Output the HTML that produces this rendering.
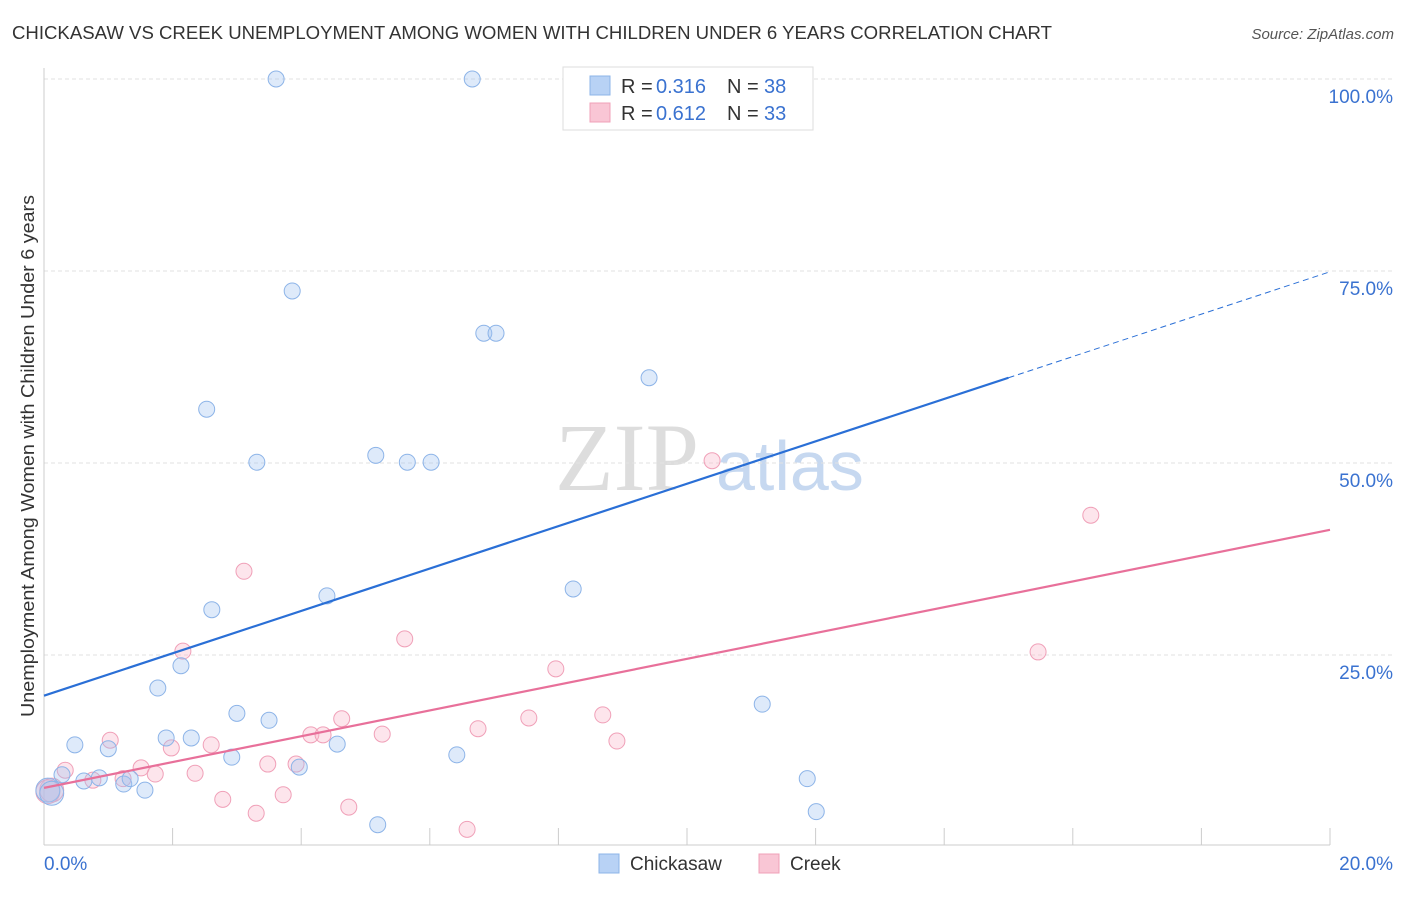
<!DOCTYPE html>
<html><head><meta charset="utf-8"><style>
body{margin:0;background:#fff;font-family:"Liberation Sans",sans-serif;}
</style></head><body>
<svg id="chart" width="1406" height="892" xmlns="http://www.w3.org/2000/svg" font-family="Liberation Sans, sans-serif">
<text x="12" y="39" font-size="18" fill="#333" textLength="1040" lengthAdjust="spacingAndGlyphs">CHICKASAW VS CREEK UNEMPLOYMENT AMONG WOMEN WITH CHILDREN UNDER 6 YEARS CORRELATION CHART</text>
<text x="1394" y="39" font-size="15" fill="#555" text-anchor="end" font-style="italic">Source: ZipAtlas.com</text>
<g>
<text x="555" y="490" font-size="96" font-family="Liberation Serif, serif" fill="#dddddd">ZIP</text>
<text x="716" y="490" font-size="70" fill="#c6d8f0">atlas</text>
</g>
<g id="grid"></g>
<g id="axes"></g>
<g id="marks"></g>
<text transform="translate(34,456) rotate(-90)" font-size="18" fill="#333" text-anchor="middle" textLength="522" lengthAdjust="spacingAndGlyphs">Unemployment Among Women with Children Under 6 years</text>
<g>
<rect x="563" y="67" width="250" height="63" fill="#fff" stroke="#ddd"/>
<rect x="590" y="76" width="20" height="19" fill="#b8d2f5" stroke="#8db4e8"/>
<rect x="590" y="103" width="20" height="19" fill="#f9c6d5" stroke="#f0a0b8"/>
<text x="621" y="93" font-size="20" fill="#333">R =</text>
<text x="656" y="93" font-size="20" fill="#3a72d0">0.316</text>
<text x="727" y="93" font-size="20" fill="#333">N =</text>
<text x="764" y="93" font-size="20" fill="#3a72d0">38</text>
<text x="621" y="120" font-size="20" fill="#333">R =</text>
<text x="656" y="120" font-size="20" fill="#3a72d0">0.612</text>
<text x="727" y="120" font-size="20" fill="#333">N =</text>
<text x="764" y="120" font-size="20" fill="#3a72d0">33</text>
</g>
<g>
<rect x="599" y="854" width="20" height="19" fill="#b8d2f5" stroke="#8db4e8"/>
<text x="630" y="870" font-size="19" fill="#333">Chickasaw</text>
<rect x="759" y="854" width="20" height="19" fill="#f9c6d5" stroke="#f0a0b8"/>
<text x="790" y="870" font-size="19" fill="#333">Creek</text>
</g>
</svg>
<script>
const yTicks=[25,50,75,100];
const yTickLabels=["25.0%","50.0%","75.0%","100.0%"];
const xTickLabels=["0.0%","20.0%"];
const blueX=[3.61,6.66,3.86,6.84,7.03,9.41,2.53,3.31,5.16,5.65,6.02,2.61,4.40,8.23,2.13,1.77,0.48,1.00,1.90,2.29,3.00,3.50,2.92,4.56,3.97,6.42,11.17,11.87,12.01,5.19,0.86,0.62,1.24,1.34,1.57,0.28,0.06,0.12];
const blueY=[100,100,72.4,66.9,66.9,61.1,57.0,50.1,51.0,50.1,50.1,30.9,32.7,33.6,23.6,20.7,13.3,12.8,14.2,14.2,17.4,16.5,11.7,13.4,10.4,12.0,18.6,8.9,4.6,2.9,9.0,8.6,8.2,8.9,7.4,9.4,7.4,7.0];
const pinkX=[3.11,10.39,16.28,15.46,5.61,2.16,7.96,1.03,1.98,2.60,2.35,1.51,1.73,1.23,0.76,0.33,0.12,3.48,3.92,4.15,4.34,4.63,5.26,6.75,7.54,8.69,8.91,2.78,3.30,3.72,4.74,6.58,0.06];
const pinkY=[35.9,50.3,43.2,25.4,27.1,25.5,23.2,13.9,12.9,13.3,9.6,10.3,9.5,8.9,8.7,10.0,7.4,10.8,10.8,14.6,14.6,16.7,14.7,15.4,16.8,17.2,13.8,6.2,4.4,6.8,5.2,2.3,7.2];
const blueTrend=[19.7,74.9];
const pinkTrend=[7.7,41.3];
const NS="http://www.w3.org/2000/svg";
const X=v=>44+v/20*1286, Y=v=>847-v/100*768;
function mk(t,a,p){const e=document.createElementNS(NS,t);for(const k in a)e.setAttribute(k,a[k]);p.appendChild(e);return e;}
const grid=document.getElementById('grid'),axes=document.getElementById('axes'),marks=document.getElementById('marks');
yTicks.forEach((t,i)=>{
 const l=mk('line',{x1:44,x2:1394,y1:Y(t),y2:Y(t),stroke:'#e2e2e2','stroke-dasharray':'4,3'},grid);
 
 
 const tx=mk('text',{x:1393,y:Y(t)+24,'font-size':19,fill:'#3a72d0','text-anchor':'end'},axes);
 tx.textContent=yTickLabels[i];
 
 
});
const ax=mk('line',{x1:44,x2:44,y1:68,y2:845,stroke:'#ccc'},axes);


const bx=mk('line',{x1:44,x2:1330,y1:845,y2:845,stroke:'#ccc'},axes);


for(let v=2;v<=20;v+=2){const t=mk('line',{x1:X(v),x2:X(v),y1:828,y2:845,stroke:'#ccc'},axes);
 
 }
[[0,'start',44],[20,'end',1393]].forEach((d,i)=>{const t=mk('text',{x:d[2],y:870,'font-size':19,fill:'#3a72d0','text-anchor':d[1]},axes);t.textContent=xTickLabels[i];
 
 });
function pts(xs,ys,fill,stroke,name){xs.forEach((x,i)=>{const big=x<0.2;const c=mk('circle',{cx:X(x),cy:Y(ys[i]),r:big?12:8,fill:fill,stroke:stroke,'stroke-width':1},marks);
 
 });}
pts(pinkX,pinkY,'rgba(248,180,200,0.35)','#f0a0b8','creek-point');
pts(blueX,blueY,'rgba(160,196,240,0.35)','#8db4e8','chickasaw-point');
const bAt=x=>blueTrend[0]+(blueTrend[1]-blueTrend[0])*x/20;
const l1=mk('line',{x1:X(0),y1:Y(bAt(0)),x2:X(15),y2:Y(bAt(15)),stroke:'#2a6fd6','stroke-width':2.2},marks);


const l2=mk('line',{x1:X(15),y1:Y(bAt(15)),x2:X(20),y2:Y(bAt(20)),stroke:'#2a6fd6','stroke-width':1,'stroke-dasharray':'6,4'},marks);


const l3=mk('line',{x1:X(0),y1:Y(pinkTrend[0]),x2:X(20),y2:Y(pinkTrend[1]),stroke:'#e8709a','stroke-width':2.2},marks);


</script>
</body></html>
